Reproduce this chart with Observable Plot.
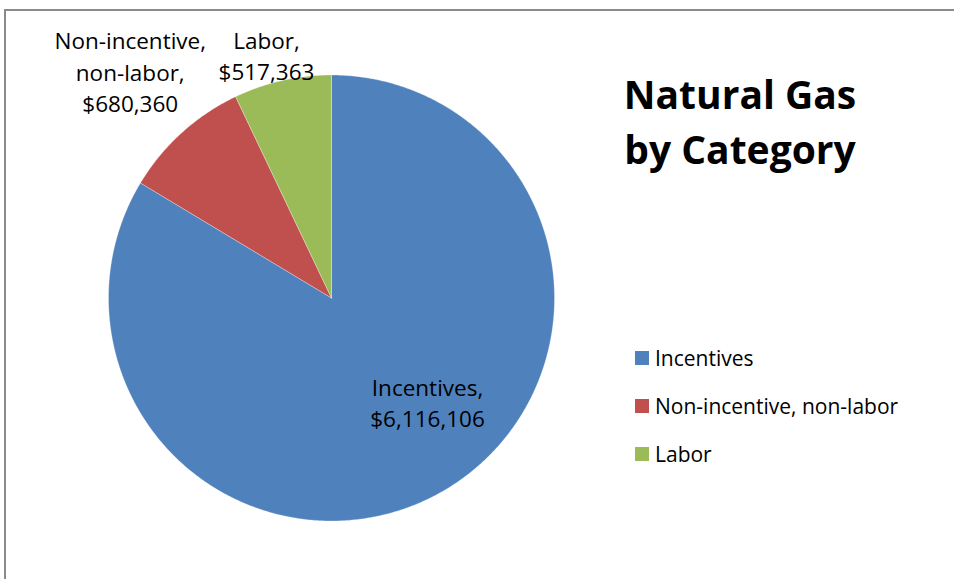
<!DOCTYPE html>
<html>
<head>
<meta charset="utf-8">
<script src="https://cdn.jsdelivr.net/npm/d3@7"></script>
<script src="https://cdn.jsdelivr.net/npm/@observablehq/plot@0.6"></script>
<style>
  html, body { margin: 0; padding: 0; background: #fff; }
  #wrap { position: relative; width: 954px; height: 579px; overflow: hidden; font-family: "Open Sans", Lato, sans-serif; }
  #frame { position: absolute; left: 4px; top: 9px; width: 1000px; height: 700px; border: 2px solid #8a8a8a; box-sizing: border-box; }
  #title { position: absolute; left: 590px; width: 300px; top: 66px; text-align: center; font-weight: 700; font-size: 39px; line-height: 55px; color: #000; white-space: nowrap; }
  #legend { position: absolute; left: 635px; top: 334px; font-size: 21px; color: #000; }
  .li { display: flex; align-items: center; height: 48px; white-space: nowrap; }
  .sw { width: 14px; height: 14px; margin-right: 6px; flex: none; }
  #chart { position: absolute; left: 0; top: 0; }
</style>
</head>
<body>
<div id="wrap">
  <div id="frame"></div>
  <div id="chart"></div>
  <div id="title">Natural Gas<br>by Category</div>
  <div id="legend"></div>
</div>
<script>
const categories = ["Incentives", "Non-incentive, non-labor", "Labor"];
const values = [6116106, 680360, 517363];
const labelText = ["Incentives,\n$6,116,106", "Non-incentive,\nnon-labor,\n$680,360", "Labor,\n$517,363"];
const colors = ["#4F81BD", "#C0504D", "#9BBB59"];

const rows = categories.map((c, i) => ({category: c, value: values[i], label: labelText[i]}));
const arcs = d3.pie().sort(null).value(d => d.value)(rows);

// polygon points for each slice in unit coordinates (clockwise from 12 o'clock)
const pts = [];
for (const a of arcs) {
  const cat = a.data.category;
  pts.push({category: cat, x: 0, y: 0});
  const n = Math.max(2, Math.ceil((a.endAngle - a.startAngle) / (Math.PI / 360)));
  for (let k = 0; k <= n; k++) {
    const t = a.startAngle + (a.endAngle - a.startAngle) * k / n;
    pts.push({category: cat, x: Math.sin(t), y: Math.cos(t)});
  }
  pts.push({category: cat, x: 0, y: 0});
}

// label placement: radius factor and pixel offsets (layout)
const labelR = [0.62, 1.37, 1.12];
const labelDx = [28, 4, -10];
const labelDy = [-17, -1, 0];
const labels = arcs.map((a, i) => {
  const m = (a.startAngle + a.endAngle) / 2;
  return {label: a.data.label, x: Math.sin(m) * labelR[i], y: Math.cos(m) * labelR[i], dx: labelDx[i], dy: labelDy[i]};
});

const chart = Plot.plot({
  width: 954,
  height: 579,
  margin: 0,
  style: {background: "transparent", fontFamily: "'Open Sans', Lato, sans-serif"},
  x: {domain: [-1, 1], range: [108, 554], axis: null},
  y: {domain: [-1, 1], range: [520.5, 74.5], axis: null},
  color: {domain: categories, range: colors},
  marks: [
    Plot.line(pts, {x: "x", y: "y", z: "category", fill: "category", stroke: "white", strokeWidth: 0.6, strokeOpacity: 0.5, curve: "linear"}),
    ...labels.map(l => Plot.text([l], {x: "x", y: "y", text: "label", dx: l.dx, dy: l.dy, fontSize: 22.5, lineHeight: 1.4, fill: "#000", textAnchor: "middle"}))
  ]
});
document.getElementById("chart").appendChild(chart);

const legend = document.getElementById("legend");
categories.forEach((c, i) => {
  const row = document.createElement("div");
  row.className = "li";
  const sw = document.createElement("div");
  sw.className = "sw";
  sw.style.background = colors[i];
  const tx = document.createElement("span");
  tx.textContent = c;
  row.appendChild(sw);
  row.appendChild(tx);
  legend.appendChild(row);
});
</script>
</body>
</html>
